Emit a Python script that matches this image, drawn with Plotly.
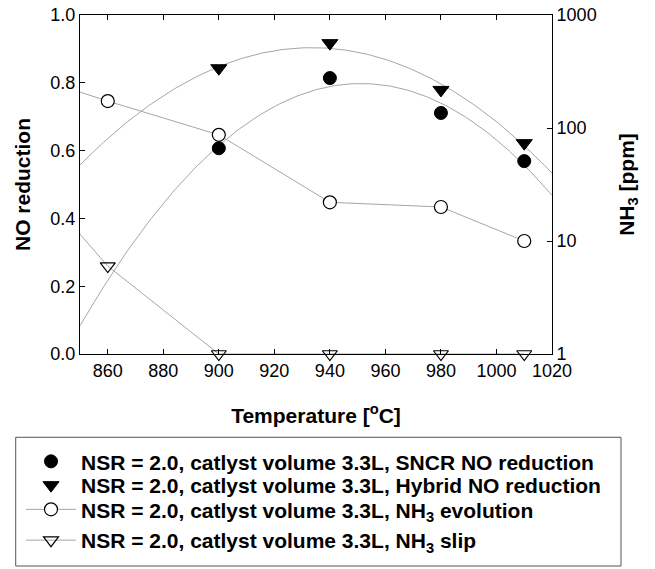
import numpy as np
import plotly.graph_objects as go

# ---- data ----
temp_no = [900, 940, 980, 1010]
sncr_no = [0.607, 0.814, 0.711, 0.569]
hybrid_no = [0.843, 0.917, 0.779, 0.622]

# NH3 series (right, log axis); first point lies left of the visible range
temp_nh3 = [840, 860, 900, 940, 980, 1010]
nh3_evolution = [250, 173, 87, 22, 20, 10]
nh3_slip = [22, 6, 1, 1, 1, 1]

x_range = [850, 1020]
x_ticks = [860, 880, 900, 920, 940, 960, 980, 1000, 1020]
y_ticks = [0.0, 0.2, 0.4, 0.6, 0.8, 1.0]
y2_ticks = [1, 10, 100, 1000]

names = [
    "<b>NSR = 2.0, catlyst volume 3.3L, SNCR NO reduction</b>",
    "<b>NSR = 2.0, catlyst volume 3.3L, Hybrid NO reduction</b>",
    "<b>NSR = 2.0, catlyst volume 3.3L, NH<sub>3</sub> evolution</b>",
    "<b>NSR = 2.0, catlyst volume 3.3L, NH<sub>3</sub> slip</b>",
]

FONT = "Arial, Liberation Sans, sans-serif"
GRAY = "#a6a6a6"

# quadratic regression curves across the axis range
xf = np.linspace(x_range[0], x_range[1], 200)
fit_sncr = np.polyval(np.polyfit(temp_no, sncr_no, 2), xf)
fit_hybrid = np.polyval(np.polyfit(temp_no, hybrid_no, 2), xf)

fig = go.Figure()

fig.add_trace(go.Scatter(x=xf, y=fit_sncr, mode="lines", line=dict(color=GRAY, width=1),
                         showlegend=False, hoverinfo="skip"))
fig.add_trace(go.Scatter(x=xf, y=fit_hybrid, mode="lines", line=dict(color=GRAY, width=1),
                         showlegend=False, hoverinfo="skip"))

fig.add_trace(go.Scatter(x=temp_no, y=sncr_no, mode="markers", name=names[0], legend="legend",
                         marker=dict(symbol="circle", size=13, color="black",
                                     line=dict(color="black", width=1))))
fig.add_trace(go.Scatter(x=temp_no, y=hybrid_no, mode="markers", name=names[1], legend="legend2",
                         marker=dict(symbol="triangle-down", size=14, color="black",
                                     line=dict(color="black", width=1))))

fig.add_trace(go.Scatter(x=temp_nh3, y=nh3_evolution, mode="lines+markers", name=names[2],
                         legend="legend3", yaxis="y2", line=dict(color=GRAY, width=1),
                         marker=dict(symbol="circle", size=13, color="white",
                                     line=dict(color="black", width=1.2))))
fig.add_trace(go.Scatter(x=temp_nh3, y=nh3_slip, mode="lines+markers", name=names[3],
                         legend="legend4", yaxis="y2", line=dict(color=GRAY, width=1),
                         cliponaxis=False,
                         marker=dict(symbol="triangle-down-open", size=13, color="black",
                                     line=dict(color="black", width=1.2))))


def leg(ypix):
    return dict(x=-0.125, y=(354 - ypix) / 339, xanchor="left", yanchor="middle",
                font=dict(size=21, family=FONT, color="black"), bgcolor="rgba(0,0,0,0)",
                borderwidth=0, itemwidth=50)


fig.update_layout(
    width=655, height=569,
    margin=dict(l=80, r=103, t=15, b=215, autoexpand=False),
    paper_bgcolor="white", plot_bgcolor="white",
    font=dict(family=FONT, color="black", size=18),
    xaxis=dict(range=x_range, tickvals=x_ticks, ticks="inside", ticklen=5,
               tickcolor="black", showline=True, linecolor="black", linewidth=1,
               mirror="ticks", showgrid=False, zeroline=False,
               tickfont=dict(size=18), ticklabeloverflow="allow",
               title=dict(text="<b>Temperature [<sup>o</sup>C]</b>", font=dict(size=21),
                          standoff=28)),
    yaxis=dict(range=[0, 1], tickvals=y_ticks, tickformat=".1f", ticks="inside",
               ticklen=5, tickcolor="black", showline=True, linecolor="black",
               linewidth=1, showgrid=False, zeroline=False, tickfont=dict(size=18),
               ticklabeloverflow="allow",
               title=dict(text="<b>NO reduction</b>", font=dict(size=21), standoff=14)),
    yaxis2=dict(type="log", range=[0, 3], tickvals=y2_ticks, ticktext=[str(v) for v in y2_ticks],
                overlaying="y", side="right", ticks="inside", ticklen=5, tickcolor="black",
                showline=True, linecolor="black", linewidth=1, showgrid=False,
                zeroline=False, tickfont=dict(size=18), ticklabeloverflow="allow",
                title=dict(text="<b>NH<sub>3</sub> [ppm]</b>", font=dict(size=21), standoff=23)),
    legend=leg(461.7),
    legend2=leg(485.5),
    legend3=leg(509.7),
    legend4=leg(540.5),
    shapes=[dict(type="rect", xref="paper", yref="paper", x0=-0.1362, x1=1.1462,
                 y0=-0.2457, y1=-0.6254, line=dict(color="#555555", width=1))],
)

fig.write_html("out.html", config={"displayModeBar": False},
               post_script="document.body.style.margin='0';document.body.style.overflow='hidden';")
